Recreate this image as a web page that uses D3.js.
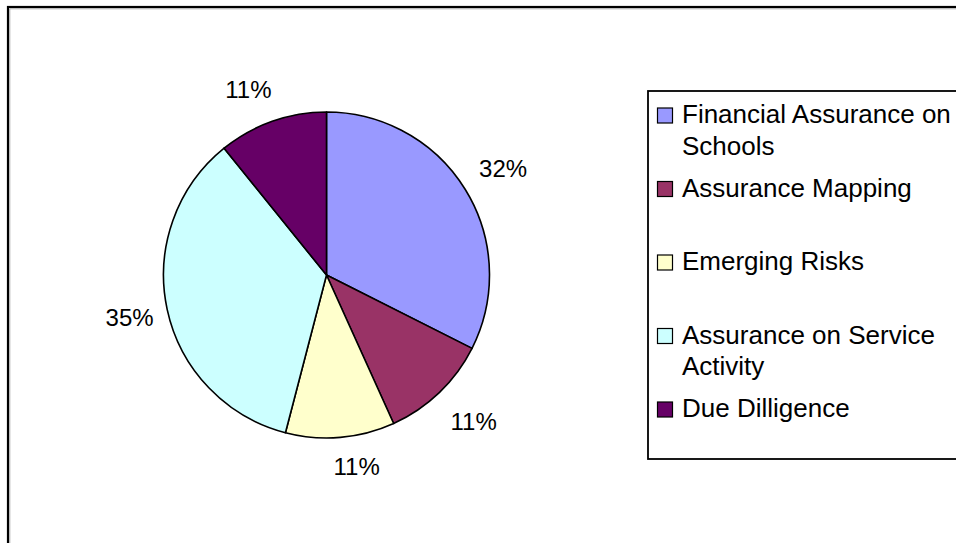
<html>
	<head>
		<meta charset="utf-8">
		<title>Pie chart</title>
		<style>
			body { margin: 0; background: #fff; }
			text { font-family: Arial, "Liberation Sans", sans-serif; }
		</style>
	</head>
	<body>
		<script src="https://cdn.jsdelivr.net/npm/d3@7"></script>
		<script>
			var width = 956;
			var height = 543;

			// data
			var categories = ["Financial Assurance on Schools", "Assurance Mapping", "Emerging Risks", "Assurance on Service Activity", "Due Dilligence"];
			var legendLines = [["Financial Assurance on", "Schools"], ["Assurance Mapping"], ["Emerging Risks"], ["Assurance on Service", "Activity"], ["Due Dilligence"]];
			var values = [32.4, 10.8, 10.8, 35.1, 10.8];
			var colors = ["#9999FF", "#993366", "#FFFFCC", "#CCFFFF", "#660066"];

			var svg = d3.select("body")
				.append("svg")
				.attr("width", width)
				.attr("height", height);

			// outer frame
			svg.append("rect")
				.attr("x", 8).attr("y", 7)
				.attr("width", width + 20).attr("height", height + 20)
				.attr("fill", "none")
				.attr("stroke", "#000")
				.attr("stroke-width", 2.2);
			svg.append("path")
				.attr("d", "M9.8,8.8V" + height + "M9.8,8.8H" + width)
				.attr("stroke", "#aaa")
				.attr("stroke-width", 1)
				.attr("fill", "none");

			var cx = 326.5, cy = 275, r = 163;
			var sum = d3.sum(values);
			var pie = d3.pie().sort(null);
			var piedata = pie(values);
			var arc = d3.arc().innerRadius(0).outerRadius(r);

			var g = svg.append("g").attr("transform", "translate(" + cx + "," + cy + ")");
			g.selectAll("path")
				.data(piedata)
				.enter()
				.append("path")
				.attr("d", arc)
				.attr("fill", function(d, i) { return colors[i]; })
				.attr("stroke", "#000")
				.attr("stroke-width", 1.6)
				.attr("stroke-linejoin", "round");

			// percent labels just outside the rim, pushed sideways near top/bottom
			var labelSize = 24;
			function labelPos(d) {
				var a = (d.startAngle + d.endAngle) / 2;
				var s = Math.sin(a), c = Math.cos(a);
				var off = 11 + Math.abs(s) * 24 + Math.abs(c) * 16;
				var x = s * (r + off) + (s < 0 ? -1 : 1) * 14 * c * c;
				var y = -c * (r + off);
				return [x, y];
			}
			g.selectAll("text.pct")
				.data(piedata)
				.enter()
				.append("text")
				.attr("class", "pct")
				.attr("text-anchor", "middle")
				.attr("font-size", labelSize)
				.attr("fill", "#000")
				.attr("x", function(d) { return labelPos(d)[0]; })
				.attr("y", function(d) { return labelPos(d)[1] + 8.6; })
				.text(function(d) { return Math.round(d.data / sum * 100) + "%"; });

			// legend
			var legendSize = 26;
			var legend = svg.append("g");
			legend.append("rect")
				.attr("x", 648).attr("y", 91)
				.attr("width", 400).attr("height", 368)
				.attr("fill", "#fff")
				.attr("stroke", "#000")
				.attr("stroke-width", 1.8);

			var items = legend.selectAll("g.item")
				.data(categories)
				.enter()
				.append("g")
				.attr("class", "item")
				.attr("transform", function(d, i) { return "translate(0," + (123 + i * 73.5) + ")"; });
			items.append("rect")
				.attr("x", 657.5).attr("y", -15)
				.attr("width", 15).attr("height", 15)
				.attr("fill", function(d, i) { return colors[i]; })
				.attr("stroke", "#000")
				.attr("stroke-width", 1.2);
			items.append("text")
				.attr("font-size", legendSize)
				.attr("fill", "#000")
				.selectAll("tspan")
				.data(function(d, i) { return legendLines[i]; })
				.enter()
				.append("tspan")
				.attr("x", 682)
				.attr("y", function(d, j) { return j * 31.5; })
				.text(function(d) { return d; });
		</script>
	</body>
</html>
